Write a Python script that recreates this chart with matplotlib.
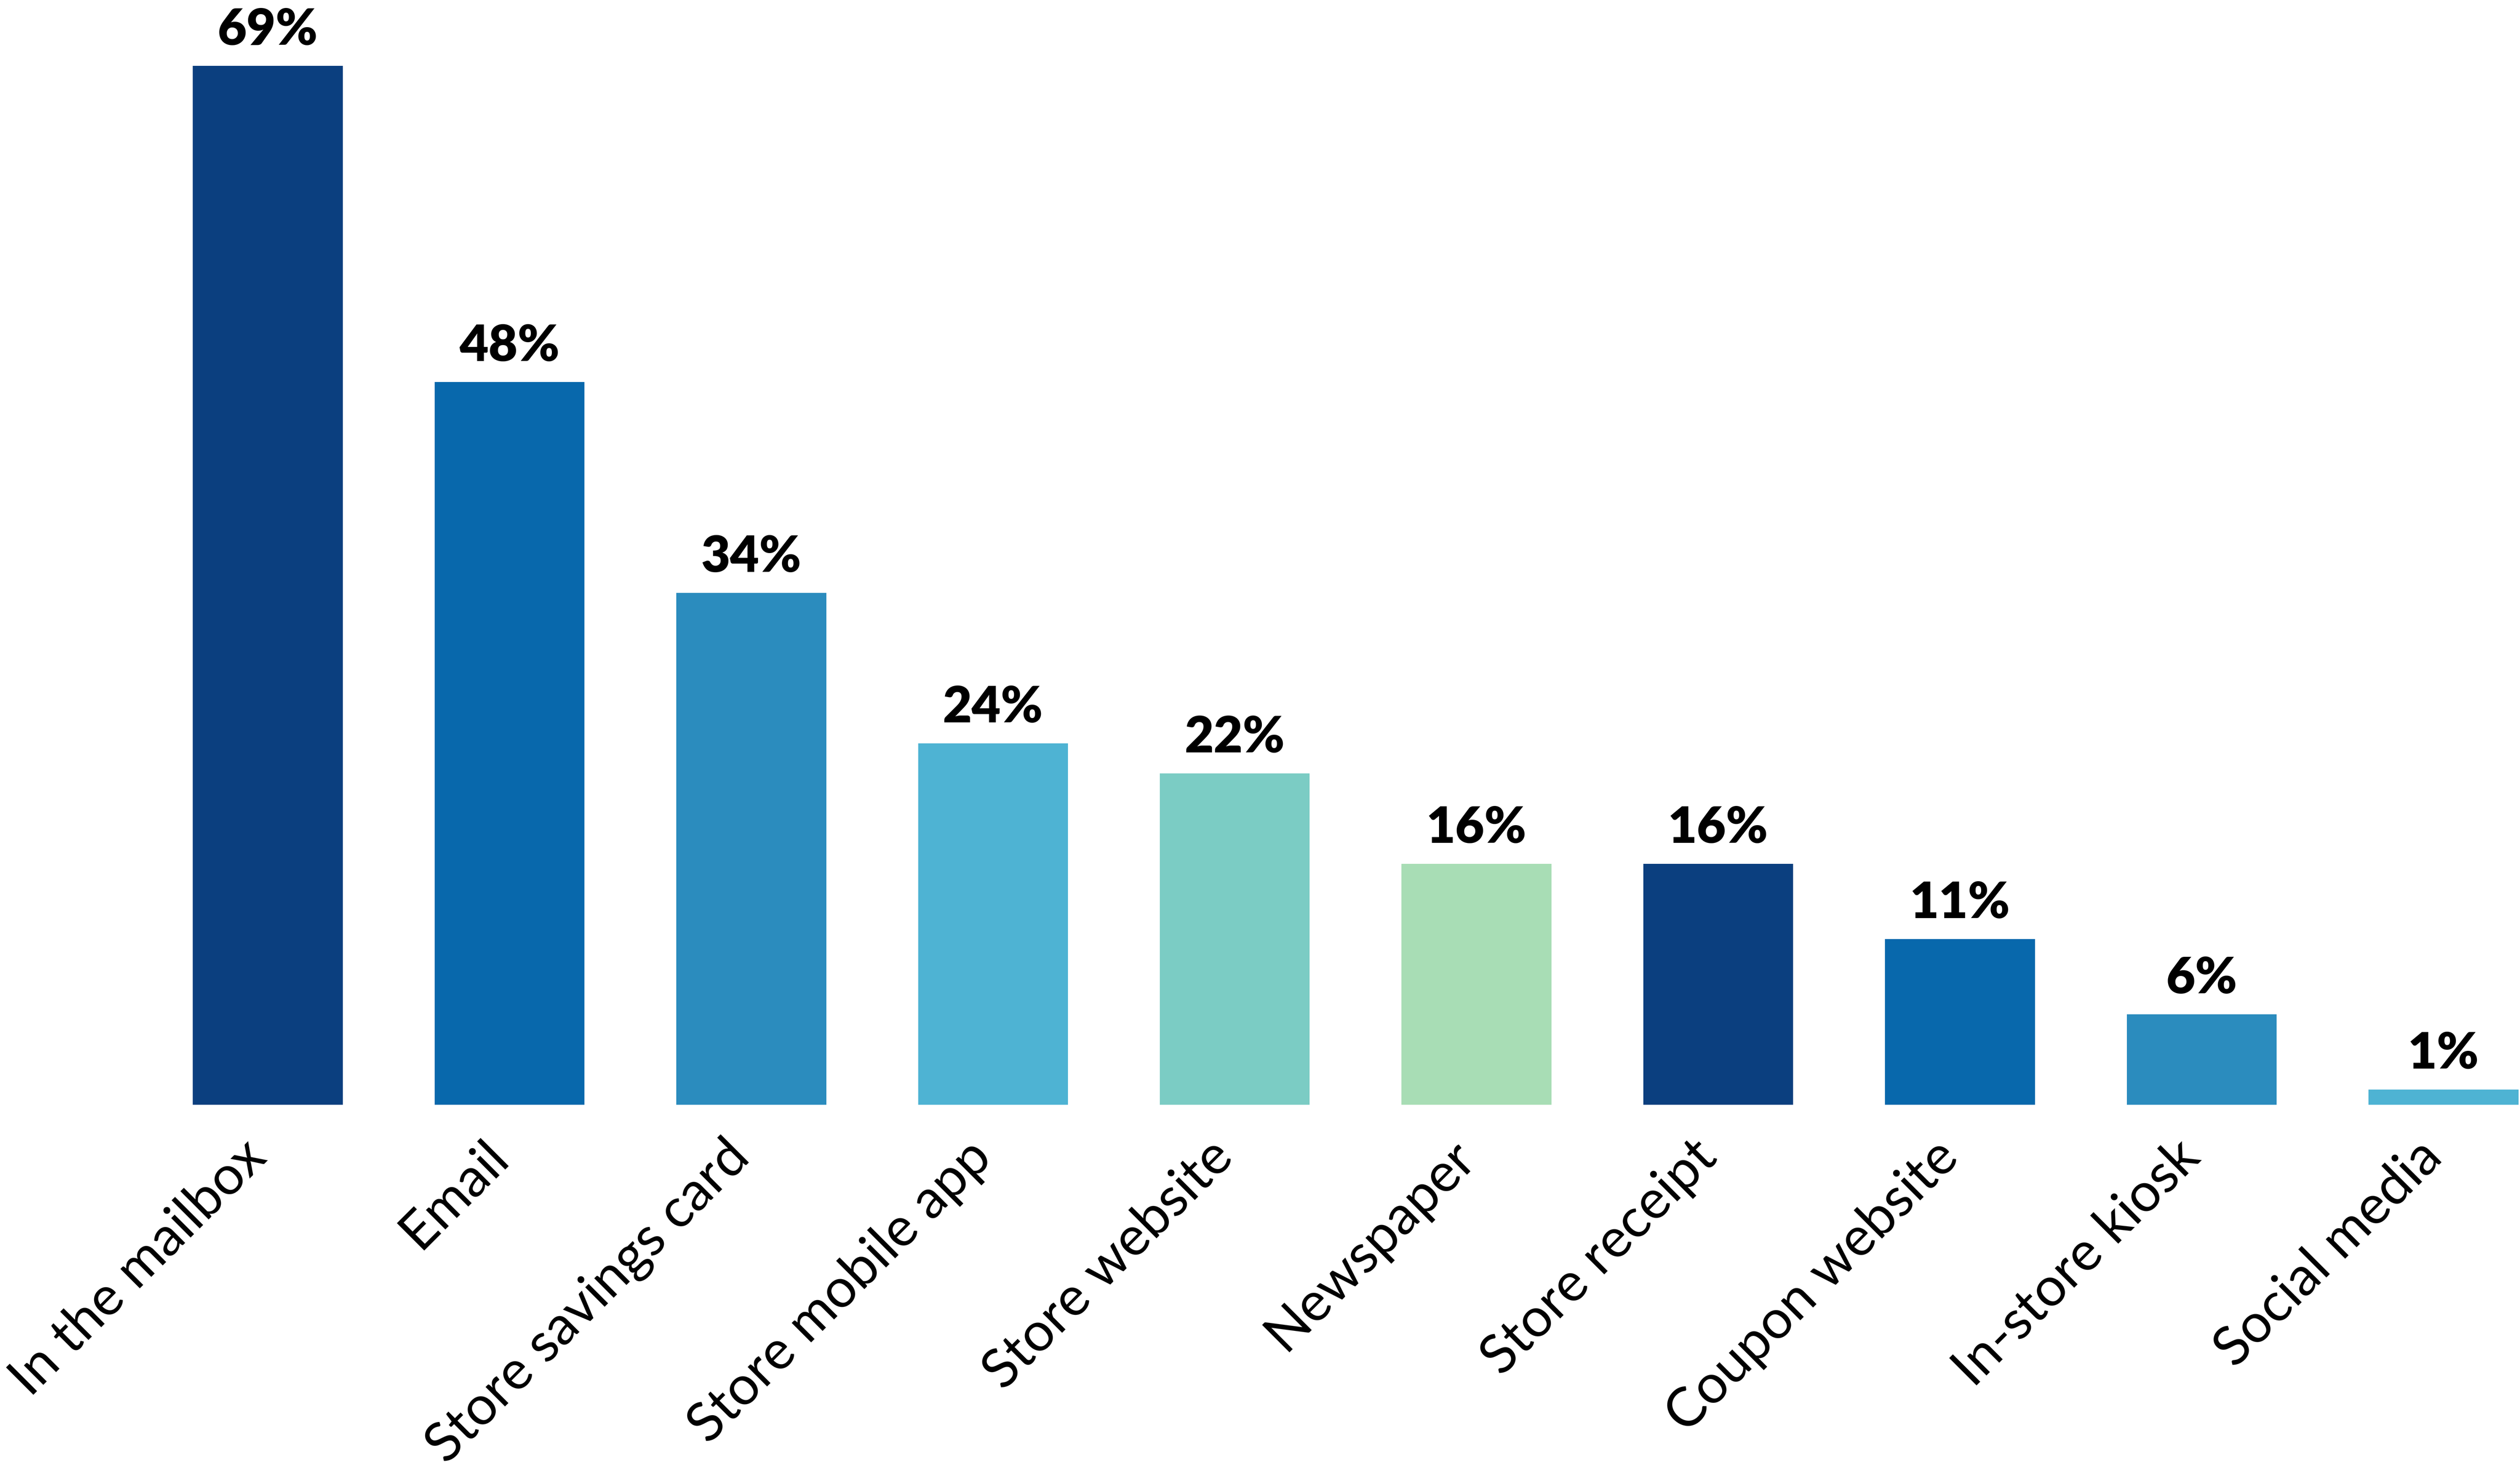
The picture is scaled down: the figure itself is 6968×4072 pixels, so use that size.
import matplotlib
matplotlib.use("Agg")
import matplotlib.pyplot as plt
import matplotlib.transforms as mtransforms

categories = ["In the mailbox", "Email", "Store savings card", "Store mobile app",
              "Store website", "Newspaper", "Store receipt", "Coupon website",
              "In-store kiosk", "Social media"]
values = [69, 48, 34, 24, 22, 16, 16, 11, 6, 1]
colors = ["#0B3F7F", "#0868AC", "#2B8CBE", "#4EB3D3", "#7BCCC4", "#A8DDB5",
          "#0B3F7F", "#0868AC", "#2B8CBE", "#4EB3D3"]

W, H = 6968, 4072
DPI = 400
fig = plt.figure(figsize=(W / DPI, H / DPI), dpi=DPI)
ax = fig.add_axes([120 / 1568, 0.25, 1447 / 1568, 0.9552 - 0.25])

x = list(range(len(categories)))
bars = ax.bar(x, values, width=0.62, color=colors, linewidth=0)
ax.set_xlim(-0.31, len(categories) - 1 + 0.31)
ax.set_ylim(0, 69)

for xi, v in zip(x, values):
    ax.annotate(f"{v}%", (xi, v), xytext=(0, 10.5), textcoords="offset points",
                ha="center", va="baseline", fontsize=25, fontweight="heavy",
                family="Lato", color="black", annotation_clip=False)

ax.set_xticks(x)
ax.set_xticklabels(categories, rotation=45, ha="right", va="center",
                   rotation_mode="anchor", fontsize=27, family="Lato")
ax.tick_params(axis="x", length=0, pad=22)
shift = mtransforms.ScaledTranslation(-5 / 72, 0, fig.dpi_scale_trans)
for lbl in ax.get_xticklabels():
    lbl.set_transform(lbl.get_transform() + shift)
ax.set_yticks([])
for s in ax.spines.values():
    s.set_visible(False)

fig.savefig("out.png", dpi=DPI, facecolor="white")
